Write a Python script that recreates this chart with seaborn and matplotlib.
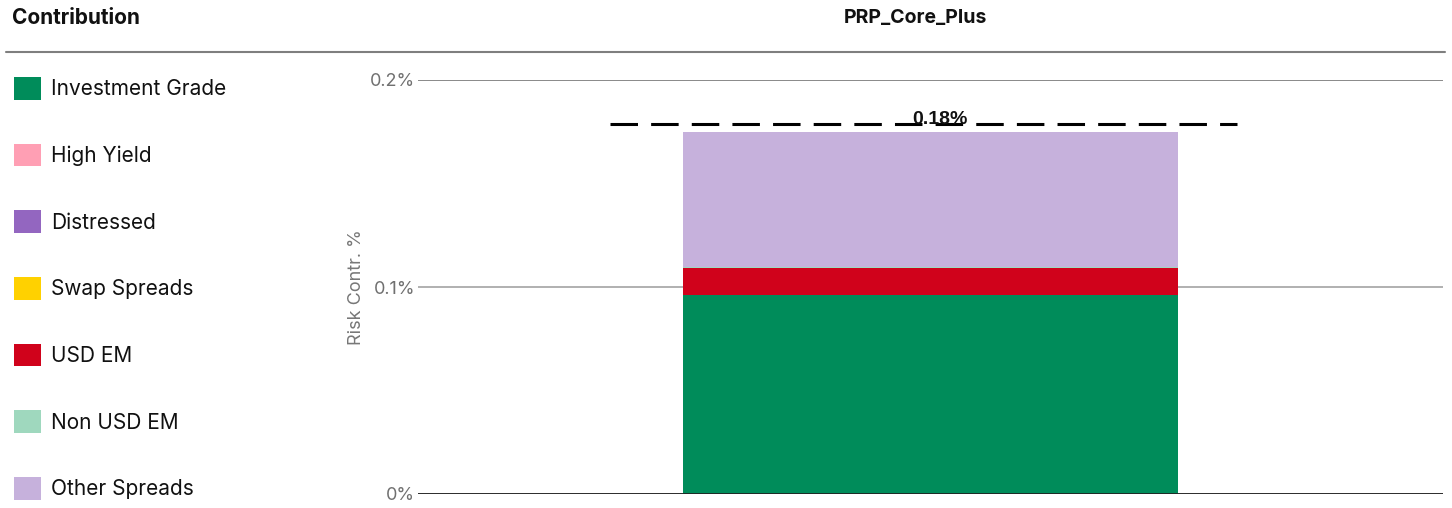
import pandas as pd
import matplotlib.pyplot as plt
import seaborn as sns
from matplotlib.patches import Patch
from matplotlib.lines import Line2D

# data
categories = ['Investment Grade', 'High Yield', 'Distressed', 'Swap Spreads',
              'USD EM', 'Non USD EM', 'Other Spreads']
colors = ['#008c5a', '#ff9fb4', '#9366c0', '#ffd100', '#d0021b', '#9fd8be', '#c6b1dc']
values = [0.0961, 0.0, 0.0, 0.0, 0.0131, 0.0006, 0.0651]
portfolio = 'PRP_Core_Plus'
total_line = 0.1787
total_label = '0.18%'
y_ticks = [0, 0.1, 0.2]
y_tick_labels = ['0%', '0.1%', '0.2%']

df = pd.DataFrame({'category': categories, 'value': values, 'color': colors})
df['cum'] = df['value'].cumsum()
df['portfolio'] = portfolio

sns.set_style('white')
plt.rcParams['font.family'] = ['Inter', 'DejaVu Sans']

W, H = 1452, 508
fig = plt.figure(figsize=(W / 100, H / 100), dpi=100)
ax = fig.add_axes([418 / W, 14 / H, 1025 / W, 414 / H])

# stacked bar: draw cumulative heights from the top down
for i in range(len(df) - 1, -1, -1):
    row = df.iloc[[i]]
    sns.barplot(data=row, x='portfolio', y='cum', color=df['color'][i],
                width=0.482, saturation=1, linewidth=0, edgecolor='none',
                ax=ax, zorder=3)

ax.set_xlim(-0.5, 0.5)
ax.set_ylim(0, 0.2)
ax.set_xticks([])
ax.set_xlabel('')
ax.set_yticks(y_ticks)
ax.set_yticklabels(y_tick_labels)
ax.tick_params(axis='y', length=0, pad=2, labelsize=13, labelcolor='#707070')
ax.set_ylabel('Risk Contr. %', fontsize=13, color='#777777')
ax.yaxis.set_label_coords(-0.052, 0.5)
for s in ax.spines.values():
    s.set_visible(False)

ax.yaxis.grid(True, linewidth=1.3, color='#aaaaaa', zorder=0)
ax.xaxis.grid(False)
ax.get_ygridlines()[2].set_color('#808080')
ax.axhline(0, color='#222222', linewidth=1.3, zorder=4)

# total marker
ax.hlines(total_line, -0.3127, 0.299, colors='black', linewidth=2.2,
          linestyles=(0, (9, 4.3)), zorder=5)
ax.text(0.009, total_line, total_label, ha='center', va='baseline',
        fontsize=14, fontweight='bold', family=['Liberation Sans', 'DejaVu Sans'],
        color='#111111', zorder=6)

# header
fig.text(12 / W, 1 - 18 / H, 'Contribution', fontsize=15, fontweight='bold',
         va='center', ha='left', color='#111111')
fig.text(915 / W, 1 - 18 / H, portfolio, fontsize=14, fontweight='bold',
         va='center', ha='center', color='#111111')
fig.add_artist(Line2D([6 / W, 1445 / W], [1 - 52 / H] * 2, color='#7f7f7f', linewidth=1.5))

# legend
handles = [Patch(facecolor=c, edgecolor='none') for c in colors]
fig.legend(handles, categories, loc='upper left', bbox_to_anchor=(14 / W, 1 - 77 / H),
           frameon=False, borderpad=0, borderaxespad=0, fontsize=15,
           handlelength=1.3, handleheight=1.3, handletextpad=0.48,
           labelspacing=2.11, labelcolor='#111111')

plt.savefig('out.png', dpi=100)
plt.close()
